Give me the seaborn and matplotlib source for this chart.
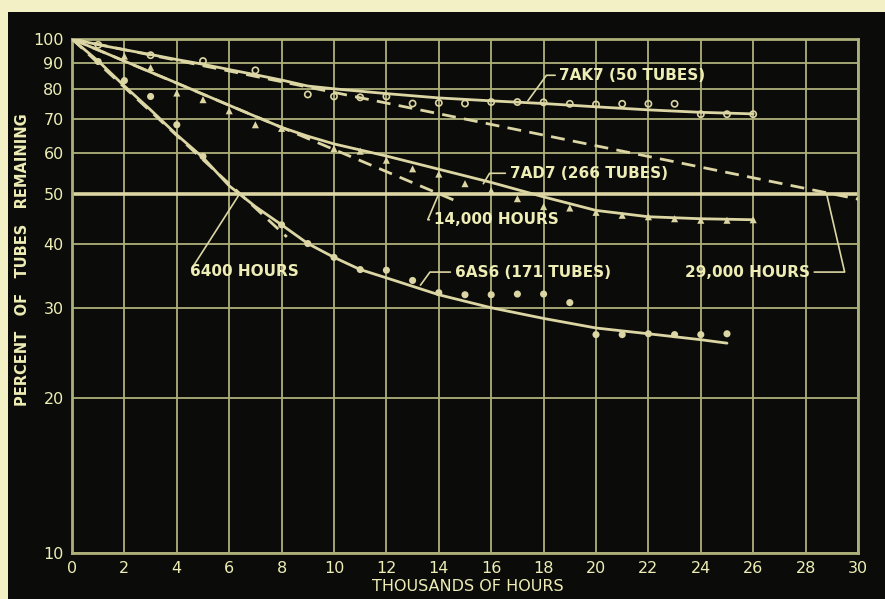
import matplotlib
matplotlib.use("Agg")
import matplotlib.pyplot as plt
from matplotlib.patches import Rectangle
from matplotlib.ticker import NullLocator
import pandas as pd
import seaborn as sns

# x = thousands of hours, y = percent of tubes remaining
ak7_curve_x = [0, 1, 2, 3, 4, 5, 6, 7, 8, 9, 10, 12, 14, 16, 18, 20, 22, 24, 26]
ak7_curve_y = [100, 97.5, 95.3, 93.3, 91.2, 89.3, 87.2, 85.2, 83.2, 81.0, 80.0,
               78.3, 76.8, 75.8, 74.9, 73.8, 72.8, 72.0, 71.5]
ak7_pts_x = [1, 3, 5, 7, 9, 10, 11, 12, 13, 14, 15, 16, 17, 18, 19, 20, 21, 22,
             23, 24, 25, 26]
ak7_pts_y = [97.4, 93.0, 90.6, 86.9, 78.0, 77.3, 77.0, 77.3, 74.9, 75.1, 74.9,
             75.4, 75.4, 75.3, 74.8, 74.6, 74.8, 74.8, 74.8, 71.4, 71.4, 71.4]
ak7_fit_x = [0, 30]
ak7_fit_y = [100, 48.8]

ad7_curve_x = [0, 1, 2, 3, 4, 5, 6, 7, 8, 9, 10, 12, 14, 16, 18, 20, 22, 24, 26]
ad7_curve_y = [100, 95.2, 90.6, 86.2, 82.1, 78.1, 74.3, 70.7, 67.3, 64.7, 62.5,
               59.2, 55.8, 52.6, 49.3, 46.4, 45.1, 44.7, 44.5]
ad7_pts_x = [2, 3, 4, 5, 6, 7, 8, 10, 11, 12, 13, 14, 15, 16, 17, 18, 19, 20, 21,
             22, 23, 24, 25, 26]
ad7_pts_y = [92.6, 88.0, 78.5, 76.2, 72.5, 68.1, 67.0, 61.2, 60.5, 58.1, 55.9,
             54.6, 52.3, 50.7, 48.9, 47.2, 46.9, 46.0, 45.4, 45.1, 44.7, 44.4,
             44.4, 44.5]
ad7_fit_x = [0, 14.7]
ad7_fit_y = [100, 48.3]

as6_curve_x = [0, 1, 2, 3, 4, 5, 6, 7, 8, 9, 10, 11, 12, 14, 16, 18, 20, 22, 24, 25]
as6_curve_y = [100, 90.6, 81.0, 72.8, 65.1, 58.8, 51.8, 47.2, 43.5, 40.0, 37.6,
               35.6, 34.3, 31.8, 30.0, 28.6, 27.4, 26.7, 26.0, 25.6]
as6_pts_x = [1, 2, 3, 4, 5, 8, 9, 10, 11, 12, 13, 14, 15, 16, 17, 18, 19, 20, 21,
             22, 23, 24, 25]
as6_pts_y = [90.4, 83.0, 77.3, 68.1, 59.1, 43.5, 40.0, 37.6, 35.6, 35.5, 33.9,
             32.1, 31.8, 31.8, 31.9, 31.9, 30.7, 26.6, 26.6, 26.7, 26.6, 26.6, 26.7]
as6_fit_x = [0, 8.2]
as6_fit_y = [100, 41.2]

x_ticks = list(range(0, 31, 2))
y_ticks = [10, 20, 30, 40, 50, 60, 70, 80, 90, 100]

BG = "#0b0c09"
PAPER = "#f4f0c6"
GRID = "#aeb07a"
INK = "#dcd6a4"
TEXT = "#eeedb6"

sns.set_theme(style="dark", rc={
    "axes.facecolor": BG, "figure.facecolor": BG,
    "axes.edgecolor": GRID, "grid.color": GRID,
})
plt.rcParams["font.family"] = ["DejaVu Sans"]

fig = plt.figure(figsize=(8.85, 5.99), dpi=100)
ax = fig.add_axes([72 / 885, 46 / 599, 786 / 885, 514 / 599])

# scanned-paper border along top and left
fig.add_artist(Rectangle((0, 1 - 12 / 599), 1, 12 / 599,
                         transform=fig.transFigure, color=PAPER, lw=0))
fig.add_artist(Rectangle((0, 0), 8 / 885, 1,
                         transform=fig.transFigure, color=PAPER, lw=0))

series = [
    (ak7_curve_x, ak7_curve_y, ak7_fit_x, ak7_fit_y, ak7_pts_x, ak7_pts_y,
     dict(marker="o", s=20, facecolor="none", edgecolor=INK, linewidth=1.2)),
    (ad7_curve_x, ad7_curve_y, ad7_fit_x, ad7_fit_y, ad7_pts_x, ad7_pts_y,
     dict(marker="^", s=26, color=INK, edgecolor="none")),
    (as6_curve_x, as6_curve_y, as6_fit_x, as6_fit_y, as6_pts_x, as6_pts_y,
     dict(marker="o", s=26, color=INK, edgecolor="none")),
]
for cx, cy, fx, fy, px, py, mkw in series:
    sns.lineplot(x=cx, y=cy, ax=ax, color=INK, lw=2.0, sort=False,
                 estimator=None, zorder=3)
    sns.lineplot(x=fx, y=fy, ax=ax, color=INK, lw=2.0, sort=False,
                 estimator=None, linestyle=(0, (5, 3)), zorder=3)
    sns.scatterplot(x=px, y=py, ax=ax, zorder=4, **mkw)

ax.set_yscale("log")
ax.set_xlim(0, 30)
ax.set_ylim(10, 100)
ax.set_xticks(x_ticks)
ax.set_xticklabels([str(t) for t in x_ticks])
ax.set_yticks(y_ticks)
ax.set_yticklabels([str(t) for t in y_ticks])
ax.yaxis.set_minor_locator(NullLocator())
ax.grid(True, which="major", color=GRID, lw=1.3)
ax.axhline(50, color=INK, lw=2.6, zorder=2)
for sp in ax.spines.values():
    sp.set_visible(True)
    sp.set_color(GRID)
    sp.set_linewidth(2)
ax.tick_params(length=0, pad=6, labelsize=11.5, colors=TEXT)

ax.set_xlabel("THOUSANDS OF HOURS", color=TEXT, fontsize=11.5)
ax.xaxis.set_label_coords(0.504, -0.05)
ax.set_ylabel("PERCENT   OF   TUBES   REMAINING", color=TEXT, fontsize=10.5,
              fontweight="bold")
ax.yaxis.set_label_coords(-0.054, 0.57)

lead = dict(arrowstyle="-", color=INK, lw=1.2, shrinkA=3, shrinkB=0, patchA=None)
txt = dict(color=TEXT, fontsize=11, fontweight="bold", va="center", ha="left",
           zorder=5)

ax.annotate("7AK7 (50 TUBES)", xy=(17.4, 75.8), xytext=(18.6, 85), **txt,
            arrowprops=dict(lead, relpos=(0, 0.5),
                            connectionstyle="angle,angleA=0,angleB=54,rad=0"))
ax.annotate("7AD7 (266 TUBES)", xy=(15.7, 52.3), xytext=(16.7, 54.8), **txt,
            arrowprops=dict(lead, relpos=(0, 0.5),
                            connectionstyle="angle,angleA=0,angleB=59,rad=0"))
ax.annotate("14,000 HOURS", xy=(14, 50), xytext=(13.8, 44.5), **txt,
            arrowprops=dict(lead, relpos=(0, 0.5),
                            connectionstyle="angle,angleA=0,angleB=67,rad=0"))
ax.annotate("6400 HOURS", xy=(6.4, 50), xytext=(4.5, 35.3), **txt,
            arrowprops=dict(lead, relpos=(0, 0.5)))
ax.annotate("6AS6 (171 TUBES)", xy=(13.3, 33.2), xytext=(14.6, 35.2), **txt,
            arrowprops=dict(lead, relpos=(0, 0.5),
                            connectionstyle="angle,angleA=0,angleB=54,rad=0"))
ax.annotate("29,000 HOURS", xy=(28.8, 50), xytext=(23.4, 35.2), **txt,
            arrowprops=dict(lead, relpos=(1, 0.5),
                            connectionstyle="angle,angleA=0,angleB=-77,rad=0"))

fig.savefig("out.png", dpi=100, facecolor=BG)
